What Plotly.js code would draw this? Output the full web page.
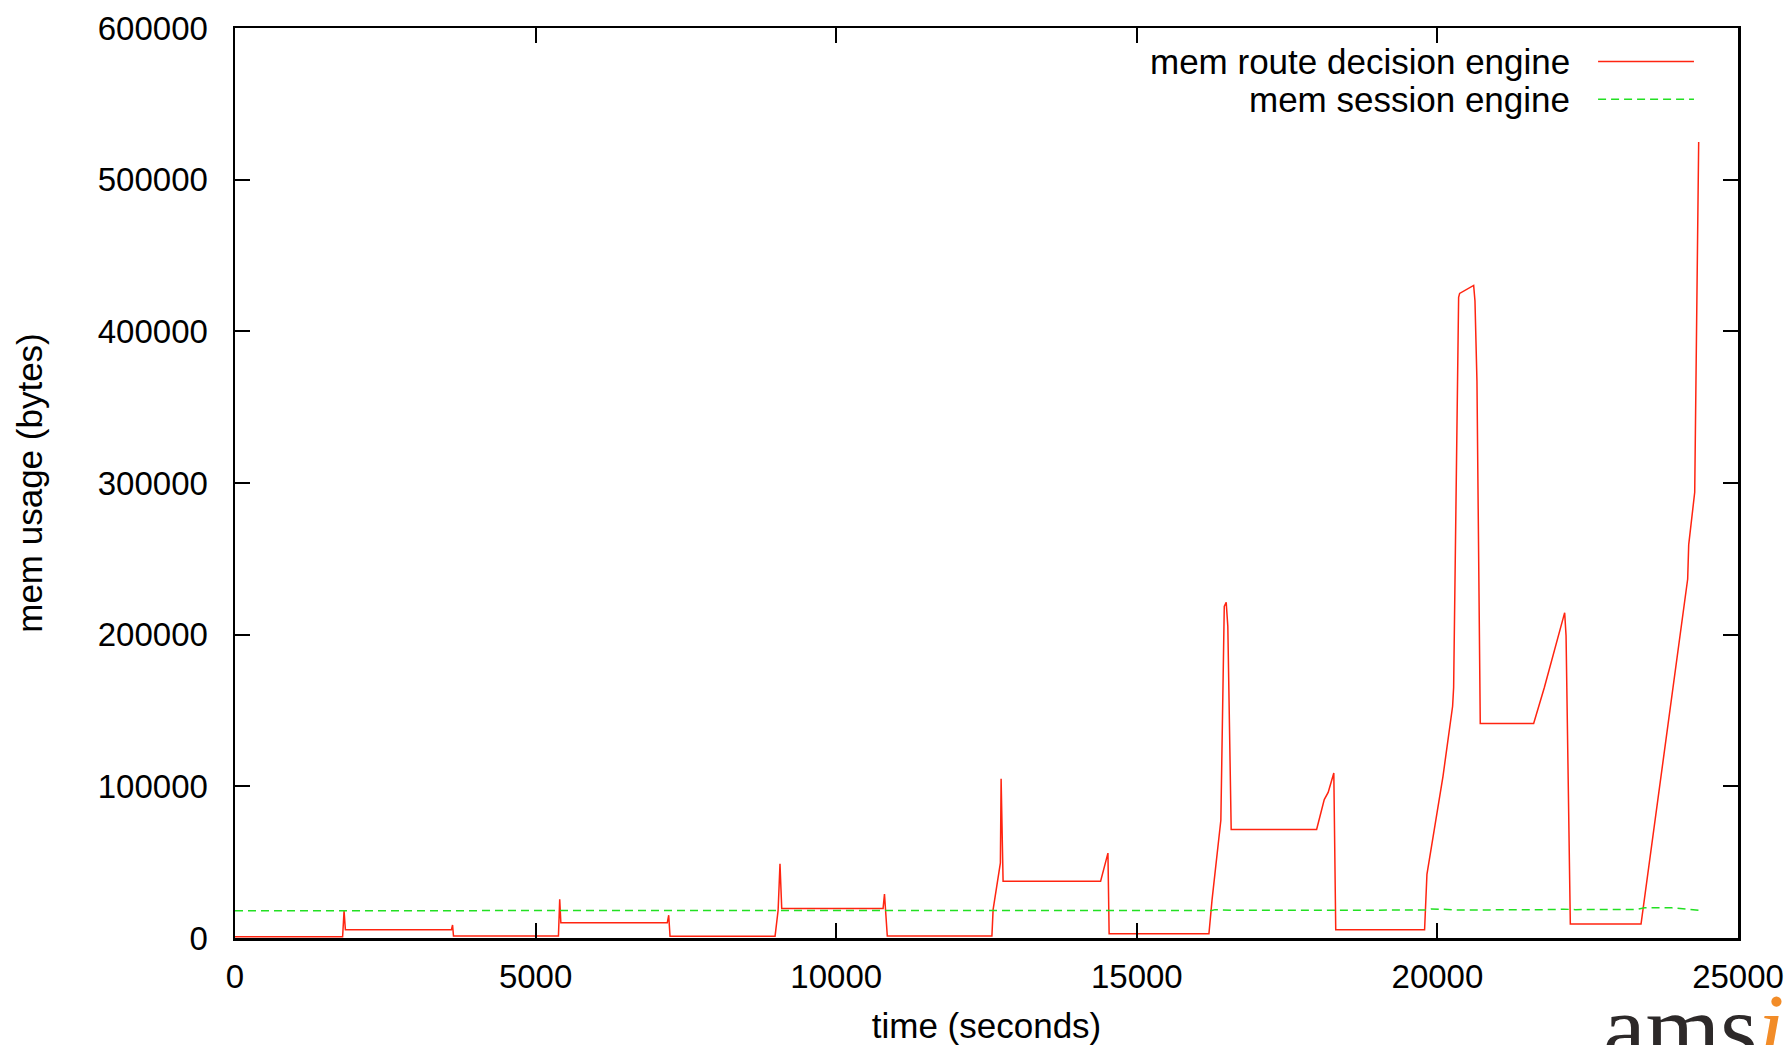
<!DOCTYPE html>
<html>
<head>
<meta charset="utf-8">
<script src="https://cdn.plot.ly/plotly-3.0.1.min.js"></script>
<style>html,body{margin:0;padding:0;background:#fff;}#chart{width:1790px;height:1045px;}</style>
</head>
<body>
<div id="chart"></div>
<script>
// ---- data ----
const routeName = "mem route decision engine";
const sessionName = "mem session engine";

const routeTime = [0, 1790, 1814, 1836, 3600, 3619, 3634, 5380, 5401, 5420, 7190, 7214, 7236,
  8983, 9034, 9065, 9094, 10780, 10803, 10850,
  12590, 12610, 12731, 12743, 12776, 14398, 14520, 14540,
  16200, 16252, 16398, 16455, 16487, 16514, 16570, 17991, 18118, 18183, 18277, 18309,
  19787, 19826, 20093, 20253, 20270, 20353, 20370, 20603, 20625, 20658, 20713,
  21601, 21779, 22117, 22140, 22211, 23387, 24163, 24180, 24280, 24346];
const routeMem = [800, 800, 18000, 5500, 5500, 8600, 1300, 1300, 25500, 10000, 10000, 15000, 1200,
  1200, 18300, 49000, 19500, 19500, 29000, 1300,
  1300, 18700, 49500, 105000, 37500, 37500, 56000, 2800,
  2800, 25300, 77600, 218700, 221300, 205500, 71500, 71500, 91250, 96000, 108800, 5500,
  5500, 42000, 106600, 152800, 165200, 422400, 425000, 430300, 420000, 367000, 141500,
  141500, 165200, 214500, 199200, 9200, 9200, 236700, 259200, 293900, 524900];

const sessionTime = [0, 5000, 10000, 15000, 16250, 16300, 16600, 19800, 19900, 20100, 20300,
  21700, 22100, 22300, 23300, 23450, 23900, 24350];
const sessionMem = [18000, 18000, 18100, 18100, 18200, 18700, 18300, 18400, 19200, 18900, 18500,
  18600, 19000, 18700, 18800, 20000, 19900, 18300];

const xTicks = [0, 5000, 10000, 15000, 20000, 25000];
const xTickText = ["0", "5000", "10000", "15000", "20000", "25000"];
const yTicks = [0, 100000, 200000, 300000, 400000, 500000, 600000];
const yTickText = ["0", "100000", "200000", "300000", "400000", "500000", "600000"];

// ---- styles ----
const RED = "#ff2410";
const GREEN = "#22e022";
const FONT = "Liberation Sans, Arial, Helvetica, sans-serif";

const traces = [
  {x: routeTime, y: routeMem, name: routeName, type: "scatter", mode: "lines",
   line: {color: RED, width: 1.5}, hoverinfo: "skip"},
  {x: sessionTime, y: sessionMem, name: sessionName, type: "scatter", mode: "lines",
   line: {color: GREEN, width: 1.5, dash: "8px,5px"}, hoverinfo: "skip"}
];

const axisCommon = {
  showgrid: false, zeroline: false, showline: true, linecolor: "#000", linewidth: 2.5,
  mirror: "ticks", ticks: "inside", ticklen: 15, tickwidth: 2, tickcolor: "#000",
  tickfont: {family: FONT, size: 33, color: "#000"}, tickmode: "array"
};

const legendRows = [
  {name: routeName, color: RED, dash: "solid", y: 0.9631},
  {name: sessionName, color: GREEN, dash: "8px,5px", y: 0.9216}
];

const annotations = legendRows.map(r => ({
  xref: "paper", yref: "paper", x: 0.8896, y: r.y, xanchor: "right", yanchor: "middle",
  text: r.name, showarrow: false, font: {family: FONT, size: 35, color: "#000"}
}));
annotations.push({
  xref: "paper", yref: "paper", x: 0.9087, y: -0.0369, xanchor: "left", yanchor: "top",
  text: "ams<span style='color:#f28c28'><i>i</i></span>", showarrow: false,
  font: {family: "Liberation Serif, Times New Roman, serif", size: 96, color: "#2d2929"}
});

const shapes = legendRows.map(r => ({
  type: "line", xref: "paper", yref: "paper", x0: 0.9069, x1: 0.9707, y0: r.y, y1: r.y,
  line: {color: r.color, width: 1.5, dash: r.dash}
}));

const layout = {
  width: 1790, height: 1045,
  margin: {l: 235, r: 52, t: 28, b: 107, pad: 0},
  paper_bgcolor: "#fff", plot_bgcolor: "#fff",
  showlegend: false,
  xaxis: Object.assign({}, axisCommon, {
    range: [0, 25000], tickvals: xTicks, ticktext: xTickText, ticklabelstandoff: 8,
    title: {text: "time (seconds)", font: {family: FONT, size: 35, color: "#000"}, standoff: 28}
  }),
  yaxis: Object.assign({}, axisCommon, {
    range: [0, 600000], tickvals: yTicks, ticktext: yTickText, ticklabelstandoff: 18,
    title: {text: "mem usage (bytes)", font: {family: FONT, size: 35, color: "#000"}, standoff: 45}
  }),
  annotations: annotations,
  shapes: shapes
};

Plotly.newPlot("chart", traces, layout, {staticPlot: true, displayModeBar: false});
</script>
</body>
</html>
